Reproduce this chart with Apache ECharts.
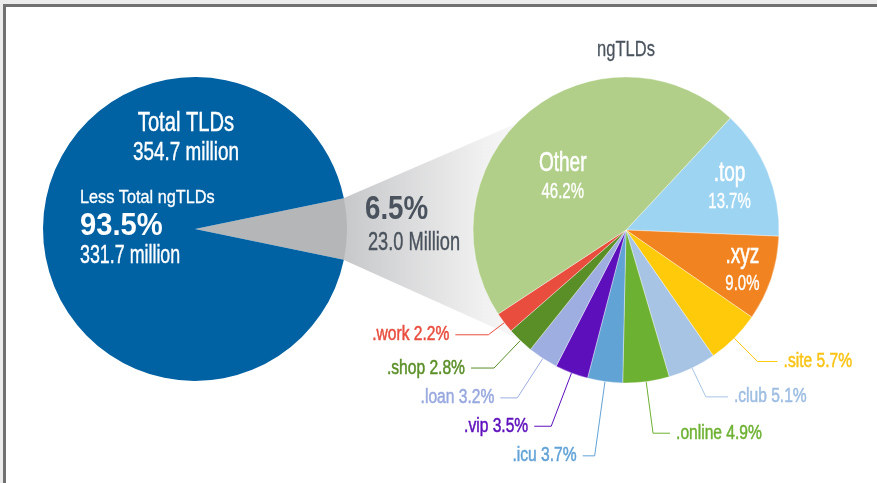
<!DOCTYPE html>
<html><head><meta charset="utf-8">
<script src="https://cdn.jsdelivr.net/npm/echarts@6/dist/echarts.min.js"></script>
<style>html,body{margin:0;padding:0;background:#fff}#c{width:877px;height:483px}</style>
</head><body><div id="c"></div>
<script>
// ---- data ----
const totalName = 'Total TLDs';
const totalValue = 354.7;
const legacyName = 'Less Total ngTLDs';
const legacyValue = 331.7;
const legacyShare = 93.5;
const ngtldName = 'ngTLDs';
const ngtldValue = 23.0;
const ngtldShare = 6.5;
const ngCategories = ['.top', '.xyz', '.site', '.club', '.online', '.icu', '.vip', '.loan', '.shop', '.work', 'Other'];
const ngShares = [13.7, 9.0, 5.7, 5.1, 4.9, 3.7, 3.5, 3.2, 2.8, 2.2, 46.2];

// ---- styles ----
const FONT = '"Liberation Sans",Arial,Roboto,sans-serif';
const COLORS = {
  'Other': '#b1cf88', '.top': '#9dd4f2', '.xyz': '#f18421', '.site': '#ffca0a',
  '.club': '#a7c4e5', '.online': '#6db132', '.icu': '#62a3d6', '.vip': '#5d0fbb',
  '.loan': '#9eaee1', '.shop': '#5a8f27', '.work': '#e84d3e'
};
const TEXT_COLORS = Object.assign({}, COLORS, {'.site': '#f9c414', '.club': '#9dbde2', '.loan': '#97a8de'});
const INSIDE = {'Other': [-12, 7], '.top': [30, -14], '.xyz': [41, 13]};
const LINES = {
  '.site': [33, 20], '.club': [32, 22], '.online': [52, 17], '.icu': [75, 12],
  '.vip': [57, 17], '.loan': [47, 17], '.shop': [38, 23], '.work': [20, 33]
};
const INSIDE_SCALE = 0.68, OUTSIDE_SCALE = 0.78;
const BLUE = '#0061a3';
const GRAY = '#b5b6b8';
const DARK = '#4a535d';

const L = {cx: 195, cy: 229, r: 152};
const R = {cx: 626, cy: 230, r: 153};

const chart = echarts.init(document.getElementById('c'), null, {renderer: 'canvas'});

const leftStart = ngtldValue / (ngtldValue + legacyValue) * 360 / 2;
const rad = a => a * Math.PI / 180;
const onL = a => [L.cx + (L.r - 0.5) * Math.cos(rad(a)), L.cy - (L.r - 0.5) * Math.sin(rad(a))];
const onR = a => [R.cx + R.r * Math.cos(rad(a)), R.cy - R.r * Math.sin(rad(a))];

const rightData = ngCategories.map((n, i) => {
  const d = {name: n, value: ngShares[i], itemStyle: {color: COLORS[n]}};
  if (INSIDE[n]) {
    d.label = {
      position: 'inside', offset: INSIDE[n],
      formatter: p => `{n|${p.name}}\n{v|${p.value.toFixed(1)}%}`,
      rich: {
        n: {fontFamily: FONT, fontSize: 28, color: '#fff', lineHeight: 32, align: 'center',
            textBorderColor: '#fff', textBorderWidth: 0.6},
        v: {fontFamily: FONT, fontSize: 22, color: '#fff', lineHeight: 26, align: 'center',
            textBorderColor: '#fff', textBorderWidth: 0.4}
      }
    };
    d.labelLine = {show: false};
  } else {
    d.label = {
      position: 'outside', color: TEXT_COLORS[n], fontFamily: FONT, fontSize: 20,
      textBorderColor: TEXT_COLORS[n], textBorderWidth: 0.5,
      distanceToLabelLine: 6,
      formatter: p => `${p.name} ${p.value.toFixed(1)}%`
    };
    d.labelLine = {show: true, length: LINES[n][0], length2: LINES[n][1],
      lineStyle: {color: COLORS[n], width: 1}};
  }
  return d;
});

const A1 = onL(leftStart), A2 = onL(-leftStart);
const B1 = onR(136), B2 = onR(225);

const txt = (x, y, text, size, sx, opts) => ({
  type: 'text', z: 100, silent: true, x: x, y: y, scaleX: sx,
  style: Object.assign({x: 0, y: 0, text, fontFamily: FONT, fontSize: size, fill: '#fff',
    textAlign: 'left', textVerticalAlign: 'middle'}, opts || {})
});
const wb = w => ({stroke: '#fff', lineWidth: w});

chart.setOption({
  backgroundColor: '#fff',
  animation: false,
  series: [
    {
      type: 'pie', center: [L.cx, L.cy], radius: L.r, startAngle: leftStart, clockwise: true,
      silent: true, label: {show: false}, labelLine: {show: false},
      data: [
        {name: ngtldName, value: ngtldValue, itemStyle: {color: GRAY}},
        {name: legacyName, value: legacyValue, itemStyle: {color: BLUE}}
      ]
    },
    {
      type: 'pie', center: [R.cx, R.cy], radius: R.r, startAngle: 47, clockwise: true,
      silent: true, avoidLabelOverlap: false,
      itemStyle: {borderColor: 'rgba(255,255,255,0.6)', borderWidth: 0.6},
      data: rightData
    }
  ],
  graphic: [
    {type: 'rect', z: 0, silent: true, shape: {x: 0, y: 0, width: 877, height: 4}, style: {fill: '#ececec'}},
    {type: 'rect', z: 0, silent: true, shape: {x: 0, y: 0, width: 3, height: 483}, style: {fill: '#ececec'}},
    {type: 'rect', z: 0, silent: true, shape: {x: 3, y: 4, width: 874, height: 3}, style: {fill: '#717171'}},
    {type: 'rect', z: 0, silent: true, shape: {x: 3, y: 4, width: 3, height: 479}, style: {fill: '#717171'}},
    {
      type: 'polygon', z: 0, silent: true,
      shape: {points: [A1, B1, [R.cx, R.cy], B2, A2]},
      style: {
        fill: new echarts.graphic.LinearGradient(0, 0, 1, 0, [
          {offset: 0, color: '#c7c8ca'},
          {offset: 0.5, color: '#f1f1f1'},
          {offset: 0.7, color: '#fbfbfb'},
          {offset: 1, color: '#ffffff'}
        ])
      }
    },
    txt(626, 50, ngtldName, 22, 0.75, {fill: DARK, textAlign: 'center', stroke: DARK, lineWidth: 0.3}),
    txt(186, 123, totalName, 28, 0.72, Object.assign({textAlign: 'center'}, wb(0.5))),
    txt(186, 153, totalValue.toFixed(1) + ' million', 25.5, 0.74, Object.assign({textAlign: 'center'}, wb(0.4))),
    txt(80, 198, legacyName, 19, 0.855, wb(0.3)),
    txt(80, 226, legacyShare.toFixed(1) + '%', 31, 0.94, {fontWeight: 'bold'}),
    txt(80, 256, legacyValue.toFixed(1) + ' million', 25.5, 0.70, wb(0.4)),
    txt(365, 210, ngtldShare.toFixed(1) + '%', 33, 0.84, {fontWeight: 'bold', fill: DARK}),
    txt(368, 243, ngtldValue.toFixed(1) + ' Million', 26, 0.70, {fill: DARK, stroke: DARK, lineWidth: 0.4})
  ]
});

// condense the pie labels (no condensed typeface is installed)
try {
  const sd = chart.getModel().getSeriesByIndex(1).getData();
  sd.each(idx => {
    const el = sd.getItemGraphicEl(idx);
    const t = el && el.getTextContent && el.getTextContent();
    if (t) {
      t.scaleX = INSIDE[sd.getName(idx)] ? INSIDE_SCALE : OUTSIDE_SCALE;
      t.markRedraw();
    }
  });
  chart.getZr().refresh();
} catch (e) {}
</script>
</body></html>
